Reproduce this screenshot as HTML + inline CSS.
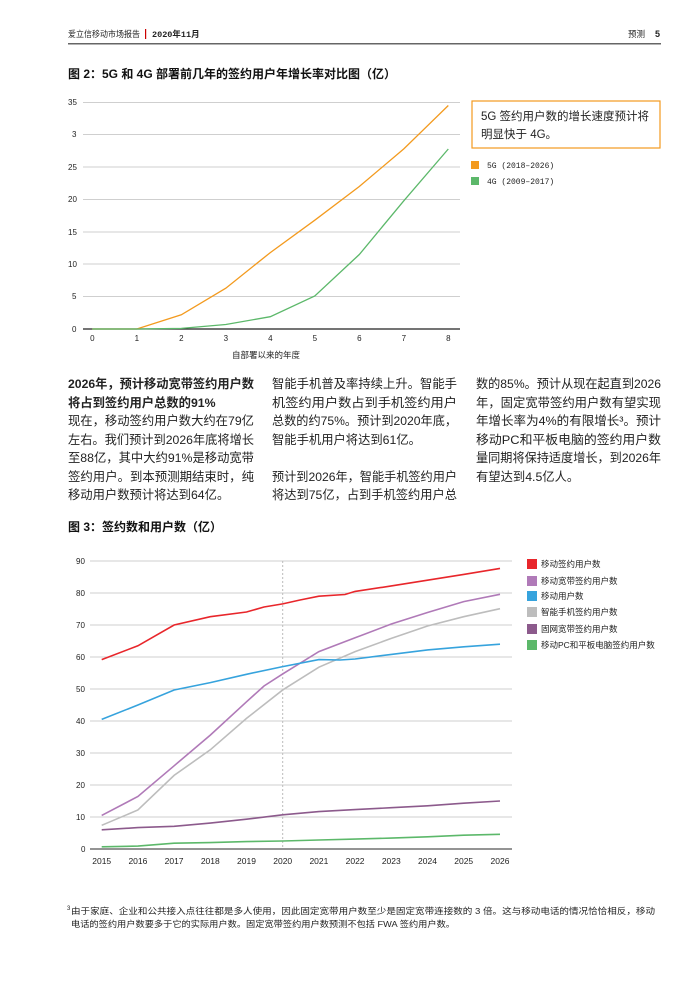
<!DOCTYPE html>
<html><head><meta charset="utf-8"><style>
body{margin:0;background:#fff;}
svg text{font-family:"Liberation Sans","Noto Sans CJK SC",sans-serif;}
.m{font-family:"Liberation Mono","Noto Sans CJK SC",monospace !important;}
</style></head><body>
<svg width="699" height="982" viewBox="0 0 699 982" xmlns="http://www.w3.org/2000/svg">
<rect width="699" height="982" fill="#fff"/>
<!-- header -->
<text x="68" y="37" font-size="8.5" fill="#222" textLength="72" lengthAdjust="spacingAndGlyphs">爱立信移动市场报告</text>
<rect x="145" y="29" width="1.2" height="10" fill="#c00"/>
<text x="152" y="37" font-size="8.5" class="m" fill="#222" font-weight="bold">2020年11月</text>
<text x="628" y="37" font-size="8.5" fill="#222">预测</text>
<text x="655" y="37" font-size="9" fill="#222" font-weight="bold">5</text>
<rect x="68" y="43" width="593" height="1.5" fill="#666"/>
<text x="68" y="78" font-size="12" font-weight="bold" fill="#111">图 2：5G 和 4G 部署前几年的签约用户年增长率对比图（亿）</text>
<!-- chart1 grid -->
<g stroke="#cfcfcf" stroke-width="1">
<line x1="83" y1="102.5" x2="460" y2="102.5"/><line x1="83" y1="134.5" x2="460" y2="134.5"/>
<line x1="83" y1="167" x2="460" y2="167"/><line x1="83" y1="199.5" x2="460" y2="199.5"/>
<line x1="83" y1="232" x2="460" y2="232"/><line x1="83" y1="264" x2="460" y2="264"/>
<line x1="83" y1="296.5" x2="460" y2="296.5"/>
</g>
<line x1="83" y1="329" x2="460" y2="329" stroke="#222" stroke-width="1.2"/>
<g font-size="8" class="m" fill="#222">
<text x="68" y="105">35</text><text x="72" y="137">3</text><text x="68" y="170">25</text><text x="68" y="202">20</text>
<text x="68" y="235">15</text><text x="68" y="267">10</text><text x="72" y="299">5</text><text x="72" y="332">0</text>
</g>
<g font-size="8" class="m" fill="#222" text-anchor="middle">
<text x="92.3" y="341">0</text><text x="136.8" y="341">1</text><text x="181.3" y="341">2</text><text x="225.8" y="341">3</text>
<text x="270.3" y="341">4</text><text x="314.8" y="341">5</text><text x="359.3" y="341">6</text><text x="403.8" y="341">7</text><text x="448.3" y="341">8</text>
</g>
<text x="266" y="358" font-size="8.5" fill="#222" text-anchor="middle">自部署以来的年度</text>
<polyline fill="none" stroke="#f39a1e" stroke-width="1.3" points="92.3,329 136.8,329 181.3,314.8 225.8,288.2 270.3,252.6 314.8,220.2 359.3,186.5 403.8,148.9 448.3,105.5"/>
<polyline fill="none" stroke="#5cb86a" stroke-width="1.3" points="92.3,329 136.8,329 181.3,328.4 225.8,324.5 270.3,316.7 314.8,296 359.3,254.5 403.8,200.8 448.3,149"/>
<rect x="472" y="101" width="188" height="47" fill="none" stroke="#f39a1e" stroke-width="1.2"/>
<text x="481" y="120" font-size="11.5" fill="#222">5G 签约用户数的增长速度预计将</text>
<text x="481" y="138" font-size="11.5" fill="#222">明显快于 4G。</text>
<rect x="471" y="161" width="8" height="8" fill="#f39a1e"/>
<rect x="471" y="177" width="8" height="8" fill="#5cb86a"/>
<text x="487" y="168" font-size="8" class="m" fill="#222">5G (2018–2026)</text>
<text x="487" y="184" font-size="8" class="m" fill="#222">4G (2009–2017)</text>
<!-- body text -->
<g font-size="12.3" fill="#222" lengthAdjust="spacingAndGlyphs">
<text x="68" y="388" font-weight="bold" textLength="186" lengthAdjust="spacingAndGlyphs">2026年，预计移动宽带签约用户数</text>
<text x="68" y="407" font-weight="bold">将占到签约用户总数的91%</text>
<text x="68" y="425" textLength="186" lengthAdjust="spacingAndGlyphs">现在，移动签约用户数大约在79亿</text>
<text x="68" y="444" textLength="186" lengthAdjust="spacingAndGlyphs">左右。我们预计到2026年底将增长</text>
<text x="68" y="462" textLength="186" lengthAdjust="spacingAndGlyphs">至88亿，其中大约91%是移动宽带</text>
<text x="68" y="481" textLength="186" lengthAdjust="spacingAndGlyphs">签约用户。到本预测期结束时，纯</text>
<text x="68" y="499">移动用户数预计将达到64亿。</text>
<text x="272" y="388" textLength="185" lengthAdjust="spacingAndGlyphs">智能手机普及率持续上升。智能手</text>
<text x="272" y="407" textLength="185" lengthAdjust="spacingAndGlyphs">机签约用户数占到手机签约用户</text>
<text x="272" y="425" textLength="185" lengthAdjust="spacingAndGlyphs">总数的约75%。预计到2020年底，</text>
<text x="272" y="444">智能手机用户将达到61亿。</text>
<text x="272" y="481" textLength="185" lengthAdjust="spacingAndGlyphs">预计到2026年，智能手机签约用户</text>
<text x="272" y="499" textLength="185" lengthAdjust="spacingAndGlyphs">将达到75亿，占到手机签约用户总</text>
<text x="476" y="388" textLength="185" lengthAdjust="spacingAndGlyphs">数的85%。预计从现在起直到2026</text>
<text x="476" y="407" textLength="185" lengthAdjust="spacingAndGlyphs">年，固定宽带签约用户数有望实现</text>
<text x="476" y="425" textLength="185" lengthAdjust="spacingAndGlyphs">年增长率为4%的有限增长³。预计</text>
<text x="476" y="444" textLength="185" lengthAdjust="spacingAndGlyphs">移动PC和平板电脑的签约用户数</text>
<text x="476" y="462" textLength="185" lengthAdjust="spacingAndGlyphs">量同期将保持适度增长，到2026年</text>
<text x="476" y="481">有望达到4.5亿人。</text>
</g>
<text x="68" y="531" font-size="12" font-weight="bold" fill="#111">图 3：签约数和用户数（亿）</text>
<!-- chart2 grid -->
<g stroke="#cfcfcf" stroke-width="1">
<line x1="90" y1="561" x2="512" y2="561"/><line x1="90" y1="593" x2="512" y2="593"/>
<line x1="90" y1="625" x2="512" y2="625"/><line x1="90" y1="657" x2="512" y2="657"/>
<line x1="90" y1="689" x2="512" y2="689"/><line x1="90" y1="721" x2="512" y2="721"/>
<line x1="90" y1="753" x2="512" y2="753"/><line x1="90" y1="785" x2="512" y2="785"/>
<line x1="90" y1="817" x2="512" y2="817"/>
</g>
<line x1="282.7" y1="561" x2="282.7" y2="849" stroke="#bbb" stroke-width="1" stroke-dasharray="2,2"/>
<line x1="90" y1="849" x2="512" y2="849" stroke="#555" stroke-width="1.3"/>
<g font-size="8" class="m" fill="#222">
<text x="76" y="564">90</text><text x="76" y="596">80</text><text x="76" y="628">70</text><text x="76" y="660">60</text>
<text x="76" y="692">50</text><text x="76" y="724">40</text><text x="76" y="756">30</text><text x="76" y="788">20</text>
<text x="76" y="820">10</text><text x="81" y="852">0</text>
</g>
<g font-size="8.5" class="m" fill="#222" text-anchor="middle">
<text x="101.7" y="864">2015</text><text x="137.9" y="864">2016</text><text x="174.1" y="864">2017</text><text x="210.3" y="864">2018</text>
<text x="246.5" y="864">2019</text><text x="282.7" y="864">2020</text><text x="318.9" y="864">2021</text><text x="355.1" y="864">2022</text>
<text x="391.3" y="864">2023</text><text x="427.5" y="864">2024</text><text x="463.7" y="864">2025</text><text x="500" y="864">2026</text>
</g>
<g fill="none" stroke-width="1.6">
<polyline stroke="#e8262b" points="101.7,659.6 137.9,645.8 174.1,625 210.3,616.7 246.5,612 264,607 282.7,603.9 300,600 318.9,596.2 345,594.5 355.1,591.4 391.3,585.96 427.5,580.2 463.7,574.4 500,568.4"/>
<polyline stroke="#b07ab8" points="101.7,815.4 137.9,796.5 174.1,765.8 210.3,735.1 246.5,701.8 264,686 282.7,673.96 318.9,651.6 355.1,637.8 391.3,624 427.5,612.5 463.7,601.6 500,594.3"/>
<polyline stroke="#bdbdbd" points="101.7,825.3 137.9,810 174.1,775.4 210.3,749.8 246.5,718.4 282.7,689.96 318.9,667.2 355.1,651.6 391.3,638.4 427.5,626 463.7,616.7 500,608.7"/>
<polyline stroke="#36a3dd" points="101.7,719.4 137.9,705 174.1,689.96 210.3,682.6 246.5,674.3 282.7,666.6 318.9,659.6 340,660 355.1,659 391.3,654.4 427.5,649.96 463.7,646.8 500,644.2"/>
<polyline stroke="#8c5a8c" points="101.7,829.8 137.9,827.6 174.1,826.3 210.3,823.1 246.5,819.2 282.7,814.8 318.9,811.6 355.1,809.6 391.3,807.7 427.5,805.8 463.7,803.2 500,801"/>
<polyline stroke="#5cb86a" points="101.7,846.8 137.9,846.1 174.1,843.2 210.3,842.6 246.5,841.6 282.7,841 318.9,840 355.1,839.1 391.3,838.1 427.5,836.8 463.7,835.2 500,834.3"/>
</g>
<rect x="527" y="559" width="10" height="10" fill="#e8262b"/>
<rect x="527" y="576" width="10" height="10" fill="#b07ab8"/>
<rect x="527" y="591" width="10" height="10" fill="#36a3dd"/>
<rect x="527" y="607" width="10" height="10" fill="#bdbdbd"/>
<rect x="527" y="624" width="10" height="10" fill="#8c5a8c"/>
<rect x="527" y="640" width="10" height="10" fill="#5cb86a"/>
<g font-size="8.5" fill="#222">
<text x="541" y="567">移动签约用户数</text>
<text x="541" y="584">移动宽带签约用户数</text>
<text x="541" y="599">移动用户数</text>
<text x="541" y="615">智能手机签约用户数</text>
<text x="541" y="632">固网宽带签约用户数</text>
<text x="541" y="648">移动PC和平板电脑签约用户数</text>
</g>
<!-- footnote -->
<text x="67" y="910" font-size="6" fill="#222">3</text>
<text x="71" y="914" font-size="8.6" fill="#222" textLength="584" lengthAdjust="spacingAndGlyphs">由于家庭、企业和公共接入点往往都是多人使用，因此固定宽带用户数至少是固定宽带连接数的 3 倍。这与移动电话的情况恰恰相反，移动</text>
<text x="71" y="927" font-size="8.6" fill="#222" textLength="384" lengthAdjust="spacingAndGlyphs">电话的签约用户数要多于它的实际用户数。固定宽带签约用户数预测不包括 FWA 签约用户数。</text>
</svg>
</body></html>
